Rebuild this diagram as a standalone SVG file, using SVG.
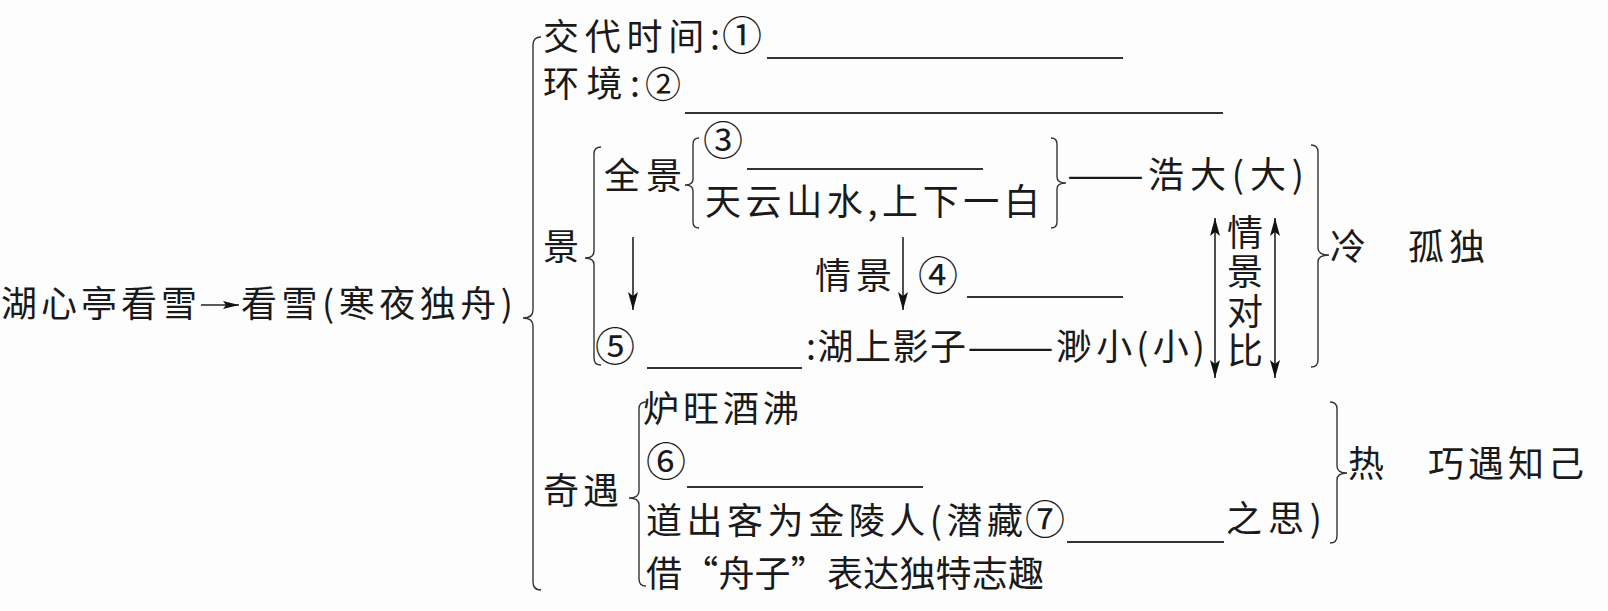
<svg xmlns="http://www.w3.org/2000/svg" width="1608" height="611" viewBox="0 0 1608 611">
<style>
text{font-family:"Noto Sans CJK SC","Noto Sans",sans-serif;font-size:36px;fill:#1a1a1a}
.num{font-size:40px}
.blank{stroke:#333;stroke-width:1.8;fill:none}
.brace{stroke:#333;stroke-width:1.4;fill:none}
.arr{stroke:#222;stroke-width:1.6;fill:none}
</style>
<defs>
<marker id="ah" markerUnits="userSpaceOnUse" markerWidth="18" markerHeight="10" refX="18" refY="5" orient="auto-start-reverse" viewBox="0 0 18 10">
<path d="M0,0 L18,5 L0,10 L4,5 z" fill="#111"/>
</marker>
<marker id="ahs" markerUnits="userSpaceOnUse" markerWidth="16" markerHeight="8" refX="16" refY="4" orient="auto" viewBox="0 0 16 8">
<path d="M0,0 L16,4 L0,8 L3,4 z" fill="#111"/>
</marker>
</defs>
<rect width="1608" height="611" fill="#fdfdfd"/>

<g id="root">
<text x="1" y="317" textLength="196" lengthAdjust="spacing">湖心亭看雪</text>
<text x="241" y="317" textLength="272" lengthAdjust="spacing">看雪(寒夜独舟)</text>
</g>

<g id="time">
<text x="543" y="50" textLength="177" lengthAdjust="spacing">交代时间:</text>
<text class="num" x="722" y="50">①</text>
<line class="blank" x1="767" y1="58" x2="1123" y2="58"/>
</g>

<g id="env">
<text x="543" y="97" textLength="97" lengthAdjust="spacing">环境:</text>
<text x="645" y="98">②</text>
<line class="blank" x1="685" y1="113" x2="1223" y2="113"/>
</g>

<g id="jing">
<text x="543" y="260">景</text>
</g>

<g id="quanjing">
<text x="604" y="189" textLength="78" lengthAdjust="spacing">全景</text>
</g>

<g id="item3">
<text class="num" x="703" y="155">③</text>
<line class="blank" x1="747" y1="169" x2="983" y2="169"/>
</g>

<g id="tianyun">
<text x="705" y="215" textLength="335" lengthAdjust="spacing">天云山水,上下一白</text>
</g>

<g id="haoda">
<text x="1067" y="188" textLength="77" lengthAdjust="spacingAndGlyphs">——</text>
<text x="1148" y="188" textLength="156" lengthAdjust="spacing">浩大(大)</text>
</g>

<g id="qingjing">
<text x="815" y="289" textLength="77" lengthAdjust="spacing">情景</text>
</g>

<g id="item4">
<text class="num" x="918" y="290">④</text>
<line class="blank" x1="967" y1="297" x2="1123" y2="297"/>
</g>

<g id="item5">
<text class="num" x="595" y="361">⑤</text>
<line class="blank" x1="647" y1="368" x2="802" y2="368"/>
<text x="806" y="360" textLength="160" lengthAdjust="spacing">:湖上影子</text>
<text x="967" y="360" textLength="87" lengthAdjust="spacingAndGlyphs">——</text>
<text x="1056" y="360" textLength="149" lengthAdjust="spacing">渺小(小)</text>
</g>

<g id="duibi">
<text x="1245" y="214" writing-mode="vertical-rl" letter-spacing="3.5">情景对比</text>
</g>

<g id="leng">
<text x="1330" y="260">冷</text>
<text x="1408" y="260" textLength="77" lengthAdjust="spacing">孤独</text>
</g>

<g id="qiyu">
<text x="543" y="504" textLength="76" lengthAdjust="spacing">奇遇</text>
</g>

<g id="luwang">
<text x="643" y="422" textLength="156" lengthAdjust="spacing">炉旺酒沸</text>
</g>

<g id="item6">
<text class="num" x="646" y="476">⑥</text>
<line class="blank" x1="687" y1="487" x2="923" y2="487"/>
</g>

<g id="item7">
<text x="646" y="534" textLength="377" lengthAdjust="spacing">道出客为金陵人(潜藏</text>
<text class="num" x="1025" y="534">⑦</text>
<line class="blank" x1="1067" y1="542" x2="1224" y2="542"/>
<text x="1226" y="532" textLength="96" lengthAdjust="spacing">之思)</text>
</g>

<g id="zhouzi">
<text x="646" y="587" textLength="398" lengthAdjust="spacing">借“舟子”表达独特志趣</text>
</g>

<g id="re">
<text x="1348" y="477">热</text>
<text x="1428" y="477" textLength="156" lengthAdjust="spacing">巧遇知己</text>
</g>

<g id="connectors">
<line class="arr" x1="201" y1="305" x2="239" y2="305" marker-end="url(#ahs)"/>
<path class="brace" d="M541,37 Q533,37 533,45 L533,310 Q533,318 523,318 Q533,318 533,326 L533,582 Q533,590 541,590"/>
<path class="brace" d="M601,147 Q594,147 594,154 L594,251 Q594,258 585,258 Q594,258 594,265 L594,358 Q594,365 601,365"/>
<path class="brace" d="M699,138 Q693,138 693,144 L693,179 Q693,185 685,185 Q693,185 693,191 L693,222 Q693,228 699,228"/>
<path class="brace" d="M646,402 Q639,402 639,409 L639,491 Q639,498 629,498 Q639,498 639,505 L639,579 Q639,586 646,586"/>
<path class="brace" d="M1051,138 Q1057,138 1057,144 L1057,177 Q1057,183 1066,183 Q1057,183 1057,189 L1057,222 Q1057,228 1051,228"/>
<path class="brace" d="M1311,145 Q1318,145 1318,152 L1318,248 Q1318,255 1329,255 Q1318,255 1318,262 L1318,360 Q1318,367 1311,367"/>
<path class="brace" d="M1330,402 Q1337,402 1337,409 L1337,466 Q1337,473 1347,473 Q1337,473 1337,480 L1337,536 Q1337,543 1330,543"/>
<line class="arr" x1="633" y1="237" x2="633" y2="310" marker-end="url(#ah)"/>
<line class="arr" x1="903" y1="237" x2="903" y2="310" marker-end="url(#ah)"/>
<line class="arr" x1="1215" y1="218" x2="1215" y2="378" marker-start="url(#ah)" marker-end="url(#ah)"/>
<line class="arr" x1="1275" y1="218" x2="1275" y2="378" marker-start="url(#ah)" marker-end="url(#ah)"/>
</g>
</svg>
